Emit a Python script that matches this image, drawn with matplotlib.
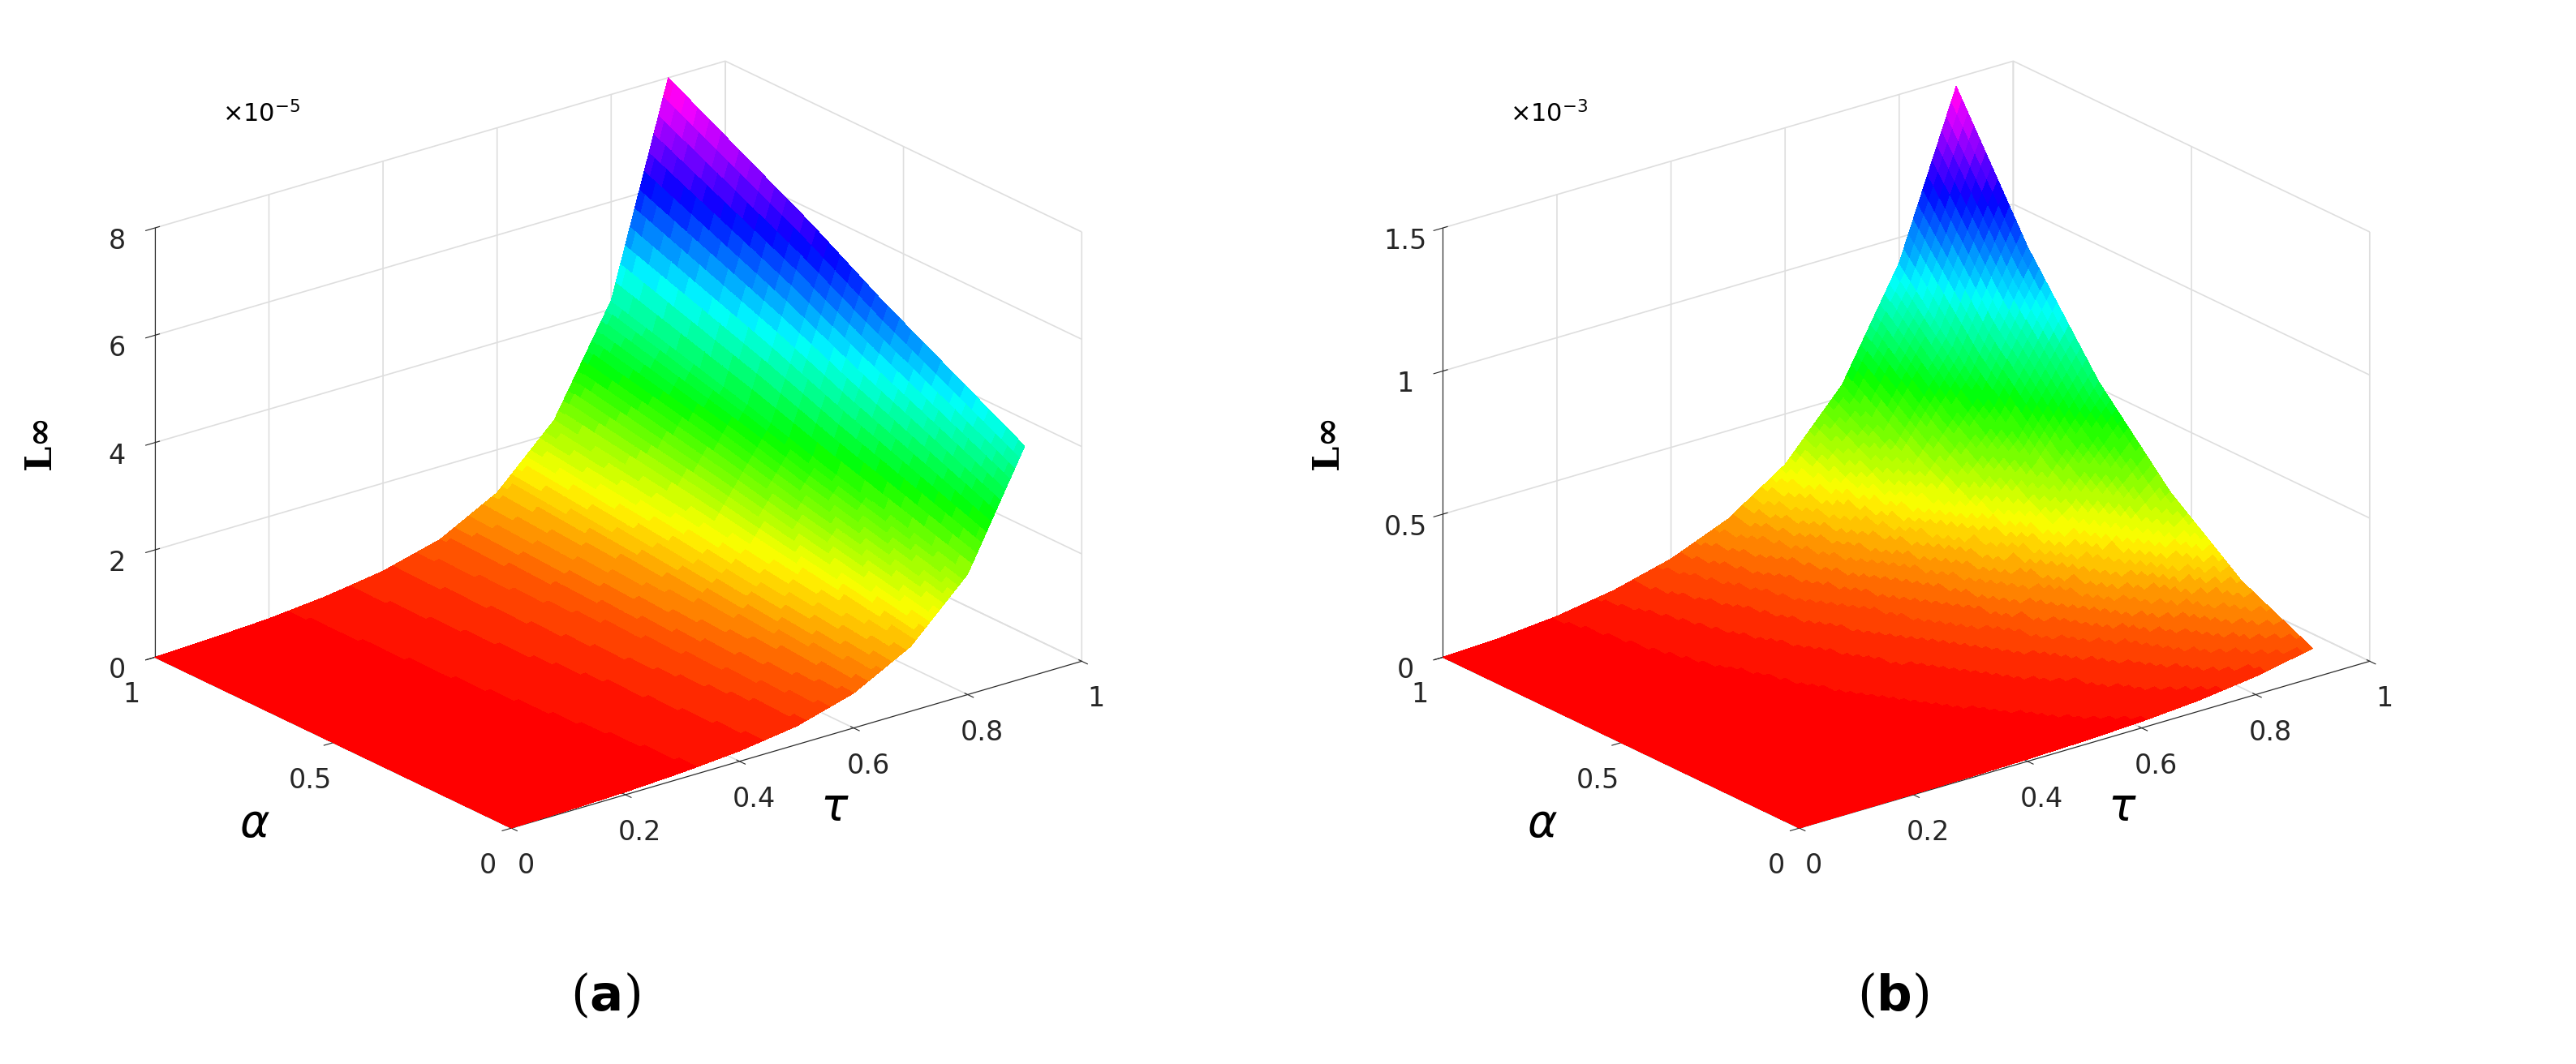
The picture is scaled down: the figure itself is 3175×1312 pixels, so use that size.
import numpy as np
import matplotlib
matplotlib.use("Agg")
import matplotlib.pyplot as plt
from matplotlib import cm

tau = [0.0, 0.1, 0.2, 0.3, 0.4, 0.5, 0.6, 0.7, 0.8, 0.9]
alpha = [0.0, 0.2, 0.4, 0.6, 0.8, 1.0]
# profile along tau (normalized) and along alpha, panel (a)
fa_tau = [0.0, 0.005, 0.012, 0.025, 0.045, 0.08, 0.15, 0.28, 0.52, 1.0]
fa_alpha = [0.54, 0.63, 0.72, 0.82, 0.91, 1.0]
peak_a = 8.0e-5
# panel (b)
fb_tau = [0.0, 0.006, 0.018, 0.04, 0.075, 0.13, 0.22, 0.37, 0.62, 1.0]
fb_alpha = [0.07, 0.15, 0.28, 0.46, 0.70, 1.0]
peak_b = 1.47e-3

def refine(T, A, Z, n=12):
    # subdivide each face bilinearly for smooth colour rendering
    t = np.asarray(T); a = np.asarray(A); Z = np.asarray(Z)
    tf = np.concatenate([np.linspace(t[i], t[i+1], n, endpoint=False) for i in range(len(t)-1)] + [[t[-1]]])
    af = np.concatenate([np.linspace(a[i], a[i+1], n, endpoint=False) for i in range(len(a)-1)] + [[a[-1]]])
    Zt = np.array([np.interp(tf, t, Z[j]) for j in range(len(a))])
    Zf = np.array([np.interp(af, a, Zt[:, k]) for k in range(len(tf))]).T
    TT, AA = np.meshgrid(tf, af)
    return TT, AA, Zf

fig = plt.figure(figsize=(31.75, 13.12), dpi=100)
plt.rcParams['font.family'] = ['DejaVu Sans']

def panel(rect, ftau, falpha, peak, zmax, zticks, zlabels, offset, caption):
    ax = fig.add_axes(rect, projection='3d', proj_type='ortho')
    Z = np.outer(falpha, ftau) * peak
    TT, AA, Zf = refine(tau, alpha, Z)
    norm = plt.Normalize(Z.min(), Z.max())
    cols = cm.hsv(np.floor(norm(Zf) * 63) / 64 * 0.92)
    ax.plot_surface(TT, AA, Zf, facecolors=cols, rstride=1, cstride=1,
                    linewidth=0, antialiased=False, shade=False)
    ax.set_xlim(0, 1); ax.set_ylim(0, 1); ax.set_zlim(0, zmax)
    ax.set_xticks([0, 0.2, 0.4, 0.6, 0.8, 1]); ax.set_xticklabels(['0', '0.2', '0.4', '0.6', '0.8', '1'])
    ax.set_yticks([0, 0.5, 1]); ax.set_yticklabels(['0', '0.5', '1'])
    ax.set_zticks(zticks); ax.set_zticklabels(zlabels)
    ax.tick_params(labelsize=24, colors='#262626', pad=10)
    ax.zaxis.set_rotate_label(False)
    ax.xaxis.set_rotate_label(False)
    ax.yaxis.set_rotate_label(False)
    ax.set_xlabel(r'$\tau$', fontsize=40, labelpad=26)
    ax.set_ylabel(r'$\alpha$', fontsize=40, labelpad=40)
    ax.set_zlabel('L∞', fontsize=32, fontweight='bold', family='DejaVu Serif',
                  labelpad=34, rotation=90)
    for a_ in (ax.xaxis, ax.yaxis, ax.zaxis):
        a_.set_pane_color((1, 1, 1, 0))
        a_._axinfo['grid']['color'] = (0.87, 0.87, 0.87, 1)
        a_._axinfo['grid']['linewidth'] = 1.2
        a_.line.set_color('#262626')
    ax.view_init(elev=22, azim=-128)
    ax.set_box_aspect((1.25, 1.0, 0.8), zoom=1.05)
    ax.text2D(0.10, 0.85, offset, transform=ax.transAxes, fontsize=22)
    fig.text(rect[0] + rect[2] / 2, 0.05, caption, ha='center', fontsize=44, family='DejaVu Serif')
    return ax

panel([0.0, 0.12, 0.47, 0.9], fa_tau, fa_alpha, peak_a, 8e-5,
      [0, 2e-5, 4e-5, 6e-5, 8e-5], ['0', '2', '4', '6', '8'],
      r'$\times10^{-5}$', r'($\mathbf{a}$)')
panel([0.5, 0.12, 0.47, 0.9], fb_tau, fb_alpha, peak_b, 1.5e-3,
      [0, 0.5e-3, 1e-3, 1.5e-3], ['0', '0.5', '1', '1.5'],
      r'$\times10^{-3}$', r'($\mathbf{b}$)')

fig.savefig('out.png', dpi=100)
